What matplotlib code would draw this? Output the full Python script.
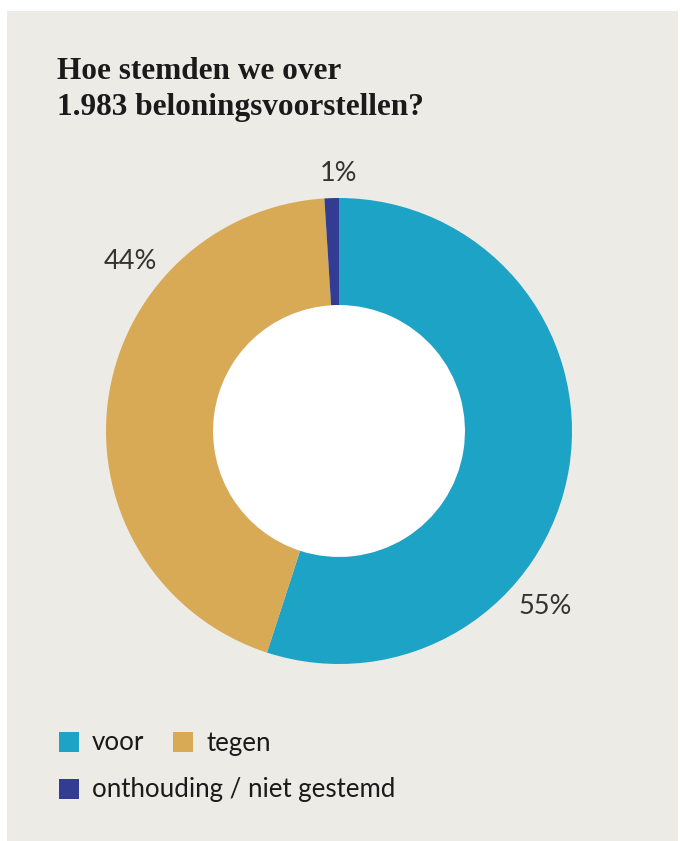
import matplotlib
matplotlib.use("Agg")
import matplotlib.pyplot as plt
import numpy as np
from matplotlib.patches import Rectangle, Circle

categories = ["voor", "tegen", "onthouding / niet gestemd"]
values = [55, 44, 1]
pct_labels = ["55%", "44%", "1%"]
colors = ["#1CA3C6", "#D9AA55", "#333C93"]
title_lines = ["Hoe stemden we over", "1.983 beloningsvoorstellen?"]

W, H = 680, 841
fig = plt.figure(figsize=(W / 100, H / 100), dpi=100)
fig.patch.set_facecolor("white")

def fx(px):
    return px / W

def fy(py):
    return 1 - py / H

# beige panel
fig.patches.append(Rectangle((fx(7), 0), fx(678) - fx(7), fy(11), transform=fig.transFigure,
                             facecolor="#EDEBE6", edgecolor="none", zorder=-5))

# title
for line, by in zip(title_lines, [79, 115]):
    fig.text(fx(57), fy(by), line, fontsize=22.5, fontweight="bold",
             family="Liberation Serif", color="#1a1a1a", va="baseline", ha="left")

# donut
cx, cy, R = 339, 431, 233
inner = 126 / 233
ax = fig.add_axes([fx(cx - R), fy(cy + R), 2 * R / W, 2 * R / H], zorder=2)
ax.set_facecolor("none")
wedges, _ = ax.pie(values, colors=colors, startangle=90, counterclock=False, radius=1,
                   wedgeprops=dict(width=1 - inner, edgecolor="none"))
ax.add_patch(Circle((0, 0), inner, facecolor="white", edgecolor="none", zorder=0))
ax.set_xlim(-1, 1)
ax.set_ylim(-1, 1)
ax.set_aspect("equal")
ax.axis("off")

# percentage labels (angle clockwise from top, radius)
label_pos = [(130.5, 1.163), (309.0, 1.154), (0.0, 1.107)]
for lab, (ang, r) in zip(pct_labels, label_pos):
    a = np.deg2rad(ang)
    ax.text(r * np.sin(a), r * np.cos(a), lab, ha="center", va="center", fontsize=19.5,
            family="Lato", color="#333333", clip_on=False)

# legend
sq = 20
leg = [(59, 732, 92), (173, 732, 207), (59, 779, 92)]
for (sx, sy, tx), c, name in zip(leg, colors, categories):
    fig.patches.append(Rectangle((fx(sx), fy(sy + sq)), sq / W, sq / H, transform=fig.transFigure,
                                 facecolor=c, edgecolor="none", zorder=1))
    fig.text(fx(tx), fy(sy + sq / 2 + 1), name, fontsize=18.6, family="Lato", color="#1a1a1a",
             va="center", ha="left")

fig.savefig("out.png", dpi=100, facecolor=fig.get_facecolor())
